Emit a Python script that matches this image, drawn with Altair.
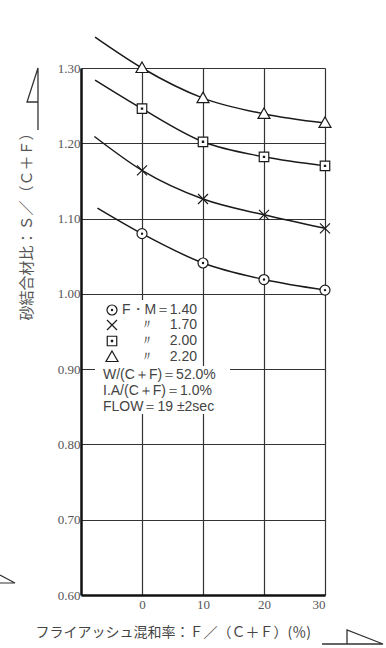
import altair as alt
import pandas as pd

# ---------------- data ----------------
fa_ratio = [0, 10, 20, 30]                      # F/(C+F) (%)
series_names = ["FM 1.40", "FM 1.70", "FM 2.00", "FM 2.20"]
fm_values = ["1.40", "1.70", "2.00", "2.20"]     # key labels
key_prefix = ["F・M＝", "〃", "〃", "〃"]
s_fm140 = [1.080, 1.041, 1.019, 1.005]
s_fm170 = [1.164, 1.126, 1.105, 1.087]
s_fm200 = [1.246, 1.202, 1.182, 1.170]
s_fm220 = [1.300, 1.260, 1.239, 1.227]
curve_start_x = [-7.3, -7.8, -7.7, -7.7]       # where the drawn curves begin (no marker)
curve_start_y = [1.114, 1.209, 1.284, 1.341]
y_ticks = [0.60, 0.70, 0.80, 0.90, 1.00, 1.10, 1.20, 1.30]
x_ticks = [0, 10, 20, 30]
notes = ["W/(C＋F)＝52.0%", "I.A/(C＋F)＝1.0%", "FLOW＝19 ±2sec"]
x_title = "フライアッシュ混和率：Ｆ／（Ｃ＋Ｆ）(％)"
y_title = "砂結合材比：Ｓ／（Ｃ＋Ｆ）"

# marker shapes (custom SVG paths)
shape_paths = [
    "M-1,0A1,1,0,1,0,1,0A1,1,0,1,0,-1,0Z M-0.12,0A0.12,0.12,0,1,0,0.12,0A0.12,0.12,0,1,0,-0.12,0Z",
    "M-1,-1L1,1M-1,1L1,-1",
    "M-0.95,-0.95H0.95V0.95H-0.95Z M-0.12,-0.12H0.12V0.12H-0.12Z",
    "M0,-1.2L1.2,0.9L-1.2,0.9Z",
]

all_vals = [s_fm140, s_fm170, s_fm200, s_fm220]
pt_rows, line_rows = [], []
for name, vals, sx, sy in zip(series_names, all_vals, curve_start_x, curve_start_y):
    line_rows.append({"series": name, "x": sx, "y": sy})
    for xv, yv in zip(fa_ratio, vals):
        pt_rows.append({"series": name, "x": xv, "y": yv})
        line_rows.append({"series": name, "x": xv, "y": yv})
pts = pd.DataFrame(pt_rows)
lines = pd.DataFrame(line_rows)

AX_FONT = "Liberation Sans Narrow"
TXT_FONT = "Liberation Sans"
CJK_FONT = "Noto Sans CJK JP"
INK = "#1a1a1a"

xs = alt.Scale(domain=[-10, 30], nice=False, zero=False)
ys = alt.Scale(domain=[0.6, 1.3], nice=False, zero=False)

x_enc = alt.X("x:Q", scale=xs, axis=alt.Axis(
    values=x_ticks, grid=True, ticks=False, format="d",
    gridColor="#333", gridWidth=1.2, gridOpacity=1,
    domainColor="#111", domainWidth=2.5,
    labelFont=AX_FONT, labelFontSize=13, labelColor="#555", labelPadding=3,
    title=x_title, titleFont=CJK_FONT, titleFontSize=14, titleFontWeight="normal",
    titleColor="#444", titleX=-46, titleY=37, titleAlign="left", titleBaseline="middle"))
y_enc = alt.Y("y:Q", scale=ys, axis=alt.Axis(
    values=y_ticks, grid=True, ticks=False, format=".2f",
    gridColor="#333", gridWidth=1.2, gridOpacity=1,
    domainColor="#111", domainWidth=2.5,
    labelFont=AX_FONT, labelFontSize=13, labelColor="#555", labelPadding=1,
    title=y_title, titleFont=CJK_FONT, titleFontSize=15, titleFontWeight="normal",
    titleColor="#555", titleAngle=270, titleX=-55, titleY=252,
    titleAlign="left", titleBaseline="middle"))

curves = alt.Chart(lines).mark_line(
    interpolate="monotone", color=INK, strokeWidth=1.5, clip=False
).encode(x=x_enc, y=y_enc, detail="series:N")

markers = alt.Chart(pts).mark_point(
    filled=False, fill="white", fillOpacity=1, stroke=INK,
    strokeWidth=1.2, opacity=1, size=100, clip=False
).encode(
    x=alt.X("x:Q", scale=xs),
    y=alt.Y("y:Q", scale=ys),
    shape=alt.Shape("series:N", sort=series_names,
                    scale=alt.Scale(domain=series_names, range=shape_paths),
                    legend=None),
)

# ---- hand-placed key (white box, symbols, labels) ----
key_bg = alt.Chart().mark_rect(color="white").encode(
    x=alt.value(19), x2=alt.value(118), y=alt.value(232), y2=alt.value(298))
notes_bg = alt.Chart().mark_rect(color="white").encode(
    x=alt.value(14), x2=alt.value(149), y=alt.value(298), y2=alt.value(346))

key_rows_y = [242, 257, 273, 289]
key_layers = []
for i, (shp, pre, val, ky) in enumerate(zip(shape_paths, key_prefix, fm_values, key_rows_y)):
    key_layers.append(alt.Chart().mark_point(
        shape=shp, size=100, filled=False, fill="white", fillOpacity=1,
        stroke=INK, strokeWidth=1.2, opacity=1
    ).encode(x=alt.value(31), y=alt.value(ky)))
    key_layers.append(alt.Chart().mark_text(
        align="left" if i == 0 else "center", baseline="middle",
        font=TXT_FONT, fontSize=14, color="#444"
    ).encode(x=alt.value(41 if i == 0 else 66), y=alt.value(ky), text=alt.value(pre)))
    key_layers.append(alt.Chart().mark_text(
        align="right", baseline="middle", font=TXT_FONT, fontSize=14, color="#444"
    ).encode(x=alt.value(116), y=alt.value(ky), text=alt.value(val)))

notes_txt = alt.Chart().mark_text(
    align="left", baseline="top", font=TXT_FONT, fontSize=14,
    color="#444", lineHeight=16
).encode(x=alt.value(22), y=alt.value(300), text=alt.value(notes))

# decorative drawing arrows at the ends of the axis titles
x_arrow = alt.Chart().mark_point(
    shape="M-1,0.23L1,0.23L-0.18,-0.23L-0.18,0.23", size=3721,
    filled=False, stroke="#333", strokeWidth=1.3, opacity=1, clip=False
).encode(x=alt.value(271.5), y=alt.value(569))
y_arrow = alt.Chart().mark_point(
    shape="M0.177,1L0.177,-1L-0.177,0.097L0.177,0.097", size=3844,
    filled=False, stroke="#333", strokeWidth=1.3, opacity=1, clip=False
).encode(x=alt.value(-48.5), y=alt.value(31))
corner_mark = alt.Chart().mark_point(
    shape="M-1,-0.53L1,0.53L-1,0.53", size=225,
    filled=False, stroke="#333", strokeWidth=1.2, opacity=1, clip=False
).encode(x=alt.value(-73.5), y=alt.value(511))

chart = alt.layer(
    curves, markers, key_bg, notes_bg, *key_layers, notes_txt,
    x_arrow, y_arrow, corner_mark
).properties(
    width=244, height=527,
    autosize=alt.AutoSizeParams(type="none"),
    padding={"left": 81, "top": 68, "right": 61, "bottom": 53},
    background="white",
).configure_view(stroke=None)

chart.save("out.html", embed_options={"renderer": "svg", "actions": False})
